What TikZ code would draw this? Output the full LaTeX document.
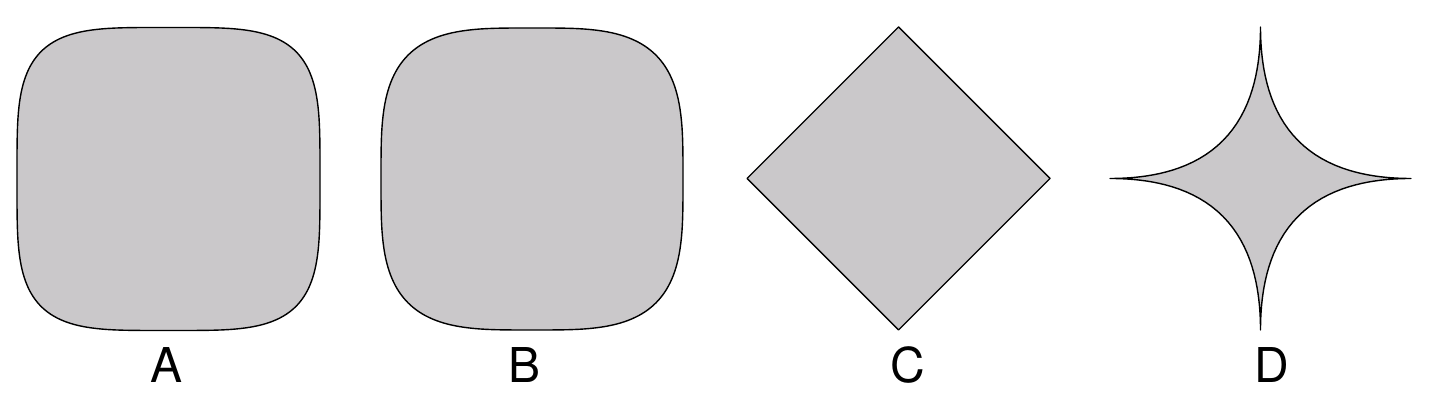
\documentclass[tikz,border=0pt]{standalone}
\usepackage{fontspec}
\setsansfont{TeX Gyre Heros}
\usetikzlibrary{positioning}
\definecolor{shapefill}{RGB}{202,200,202}

\begin{document}
\begin{tikzpicture}[
  x=0.5pt, y=0.5pt,
  declare function={
    sqx(\t,\e) = sign(cos(\t))*pow(abs(cos(\t)),\e);
    sqy(\t,\e) = sign(sin(\t))*pow(abs(sin(\t)),\e);
  },
  every node/.style={font=\sffamily\fontsize{24}{28}\selectfont},
  blob/.style={draw=black, fill=shapefill, line width=0.7pt, line join=round},
  lbl/.style={anchor=base, inner sep=0pt},
]
  \useasboundingbox (0,0) rectangle (1430,410);

  % A: superellipse, n = 4
  \draw[blob] plot[domain=1:361, samples=181]
    ({168.5+151.5*sqx(\x,0.5)}, {231+151.5*sqy(\x,0.5)}) -- cycle;
  % B: superellipse, n = 3.5
  \draw[blob] plot[domain=1:361, samples=181]
    ({532+151*sqx(\x,0.5714)}, {231+151*sqy(\x,0.5714)}) -- cycle;
  % C: diamond, n = 1
  \draw[blob] (1050,231.5) -- (898.5,383) -- (747,231.5) -- (898.5,80) -- cycle;
  % D: four-point star, n = 1/2
  \draw[blob] plot[domain=1:361, samples=181]
    ({1260.5+150.5*sqx(\x,4)}, {231.5+151.5*sqy(\x,4)}) -- cycle;

  % Letters under the shapes
  \node[lbl] (labA) at (167,27)  {A};
  \node[lbl] (labB) at (525,27)  {B};
  \node[lbl] (labC) at (908,27)  {C};
  \node[lbl] (labD) at (1272,27) {D};
\end{tikzpicture}
\end{document}
